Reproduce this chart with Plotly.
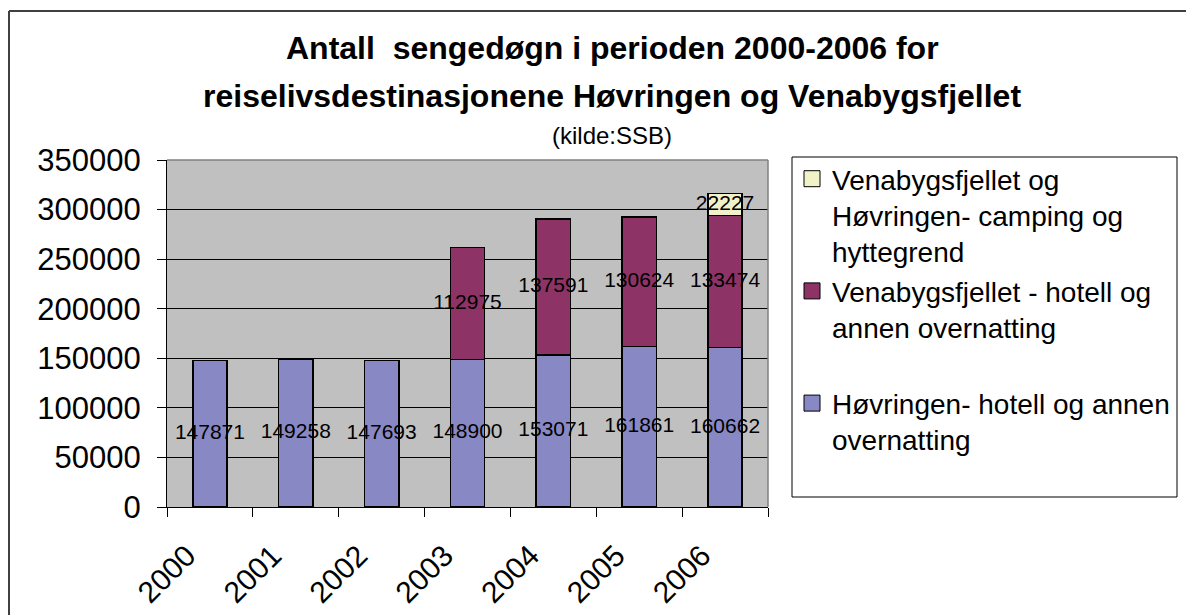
import plotly.graph_objects as go

years = ["2000", "2001", "2002", "2003", "2004", "2005", "2006"]
hovringen_hotell = [147871, 149258, 147693, 148900, 153071, 161861, 160662]
venabygs_hotell = [0, 0, 0, 112975, 137591, 130624, 133474]
camping = [0, 0, 0, 0, 0, 0, 22227]

names = [
    "Høvringen- hotell og annen<br>overnatting",
    "Venabygsfjellet - hotell og<br>annen overnatting<br>\u00a0",
    "Venabygsfjellet og<br>Høvringen- camping og<br>hyttegrend",
]
colors = ["#8888C4", "#8E3366", "#F2F2C8"]
series = [hovringen_hotell, venabygs_hotell, camping]

FONT = "Arial, 'Liberation Sans', sans-serif"

# page has an 8px body margin; work in page pixels and convert
OFF = 8
W, H = 1194 - OFF, 615 - OFF
L, R, T, B = 167 - OFF, 768 - OFF, 160 - OFF, 507 - OFF


def px(xp):
    return (xp - OFF - L) / (R - L)


def py(yp):
    return (B - (yp - OFF)) / (B - T)


fig = go.Figure()
for vals, name, col in zip(series, names, colors):
    fig.add_trace(go.Bar(
        x=years, y=vals, name=name, showlegend=False,
        marker=dict(color=col, line=dict(color="black", width=1.5)),
    ))

# legend entries with larger square symbols
for name, col in zip(names, colors):
    fig.add_trace(go.Scatter(
        x=[None], y=[None], name=name, mode="markers",
        marker=dict(symbol="square", size=16, color=col,
                    line=dict(color="black", width=1)),
    ))

# data labels, centred in each segment
lx, ly, lt = [], [], []
base = [0] * len(years)
for vals in series:
    for i, v in enumerate(vals):
        if v > 0:
            lx.append(years[i])
            ly.append(base[i] + v / 2)
            lt.append(str(v))
        base[i] += v
fig.add_trace(go.Scatter(
    x=lx, y=ly, text=lt, mode="text", showlegend=False,
    textfont=dict(family=FONT, size=21, color="black"),
    cliponaxis=False, hoverinfo="skip",
))

fig.update_layout(
    width=W, height=H, autosize=False,
    margin=dict(l=L, r=W - R, t=T, b=H - B, pad=0, autoexpand=False),
    paper_bgcolor="white", plot_bgcolor="#C0C0C0",
    barmode="stack", bargap=0.6,
    font=dict(family=FONT, color="black"),
    showlegend=True,
    legend=dict(
        x=px(792), xanchor="left", y=py(154), yanchor="top",
        bgcolor="rgba(0,0,0,0)", borderwidth=0, maxheight=600,
        font=dict(family=FONT, size=28, color="black"),
        traceorder="reversed", valign="top", tracegroupgap=0,
    ),
    xaxis=dict(
        type="category", tickson="boundaries", ticks="outside", ticklen=9,
        tickcolor="black", showline=True, linecolor="black", linewidth=1,
        tickangle=-45, tickfont=dict(family=FONT, size=30, color="black"),
        ticklabelstandoff=18, ticklabelshift=-23, automargin=False,
        showgrid=False,
    ),
    yaxis=dict(
        range=[0, 350000], dtick=50000, tickformat="d",
        ticks="outside", ticklen=9, tickcolor="black",
        showline=True, linecolor="black", linewidth=1,
        showgrid=True, gridcolor="black", gridwidth=1, zeroline=False,
        ticklabelstandoff=10, automargin=False,
        tickfont=dict(family=FONT, size=31, color="black"),
    ),
)

shapes = [
    # plot area top and right border (gray)
    dict(type="line", xref="paper", yref="paper", x0=0, x1=1, y0=1, y1=1,
         line=dict(color="#808080", width=1.5)),
    dict(type="line", xref="paper", yref="paper", x0=1, x1=1, y0=0, y1=1,
         line=dict(color="#808080", width=1.5)),
    # legend box
    dict(type="rect", xref="paper", yref="paper",
         x0=px(792), x1=px(1177), y0=py(497), y1=py(157),
         line=dict(color="black", width=1), fillcolor="rgba(0,0,0,0)"),
    # outer chart border
    dict(type="line", xref="paper", yref="paper",
         x0=px(9), x1=px(9), y0=py(11), y1=py(630),
         line=dict(color="#404040", width=2)),
    dict(type="line", xref="paper", yref="paper",
         x0=px(9), x1=px(1210), y0=py(11), y1=py(11),
         line=dict(color="#404040", width=2)),
]
fig.update_layout(shapes=shapes)

cx = px(612)
fig.add_annotation(text="<b>Antall  sengedøgn i perioden 2000-2006 for</b>",
                   xref="paper", yref="paper", x=cx, y=py(48),
                   xanchor="center", yanchor="middle", showarrow=False,
                   font=dict(family=FONT, size=32, color="black"))
fig.add_annotation(text="<b>reiselivsdestinasjonene Høvringen og Venabygsfjellet</b>",
                   xref="paper", yref="paper", x=cx, y=py(96),
                   xanchor="center", yanchor="middle", showarrow=False,
                   font=dict(family=FONT, size=32, color="black"))
fig.add_annotation(text="(kilde:SSB)",
                   xref="paper", yref="paper", x=cx, y=py(135),
                   xanchor="center", yanchor="middle", showarrow=False,
                   font=dict(family=FONT, size=24, color="black"))

fig.write_html("out.html")
